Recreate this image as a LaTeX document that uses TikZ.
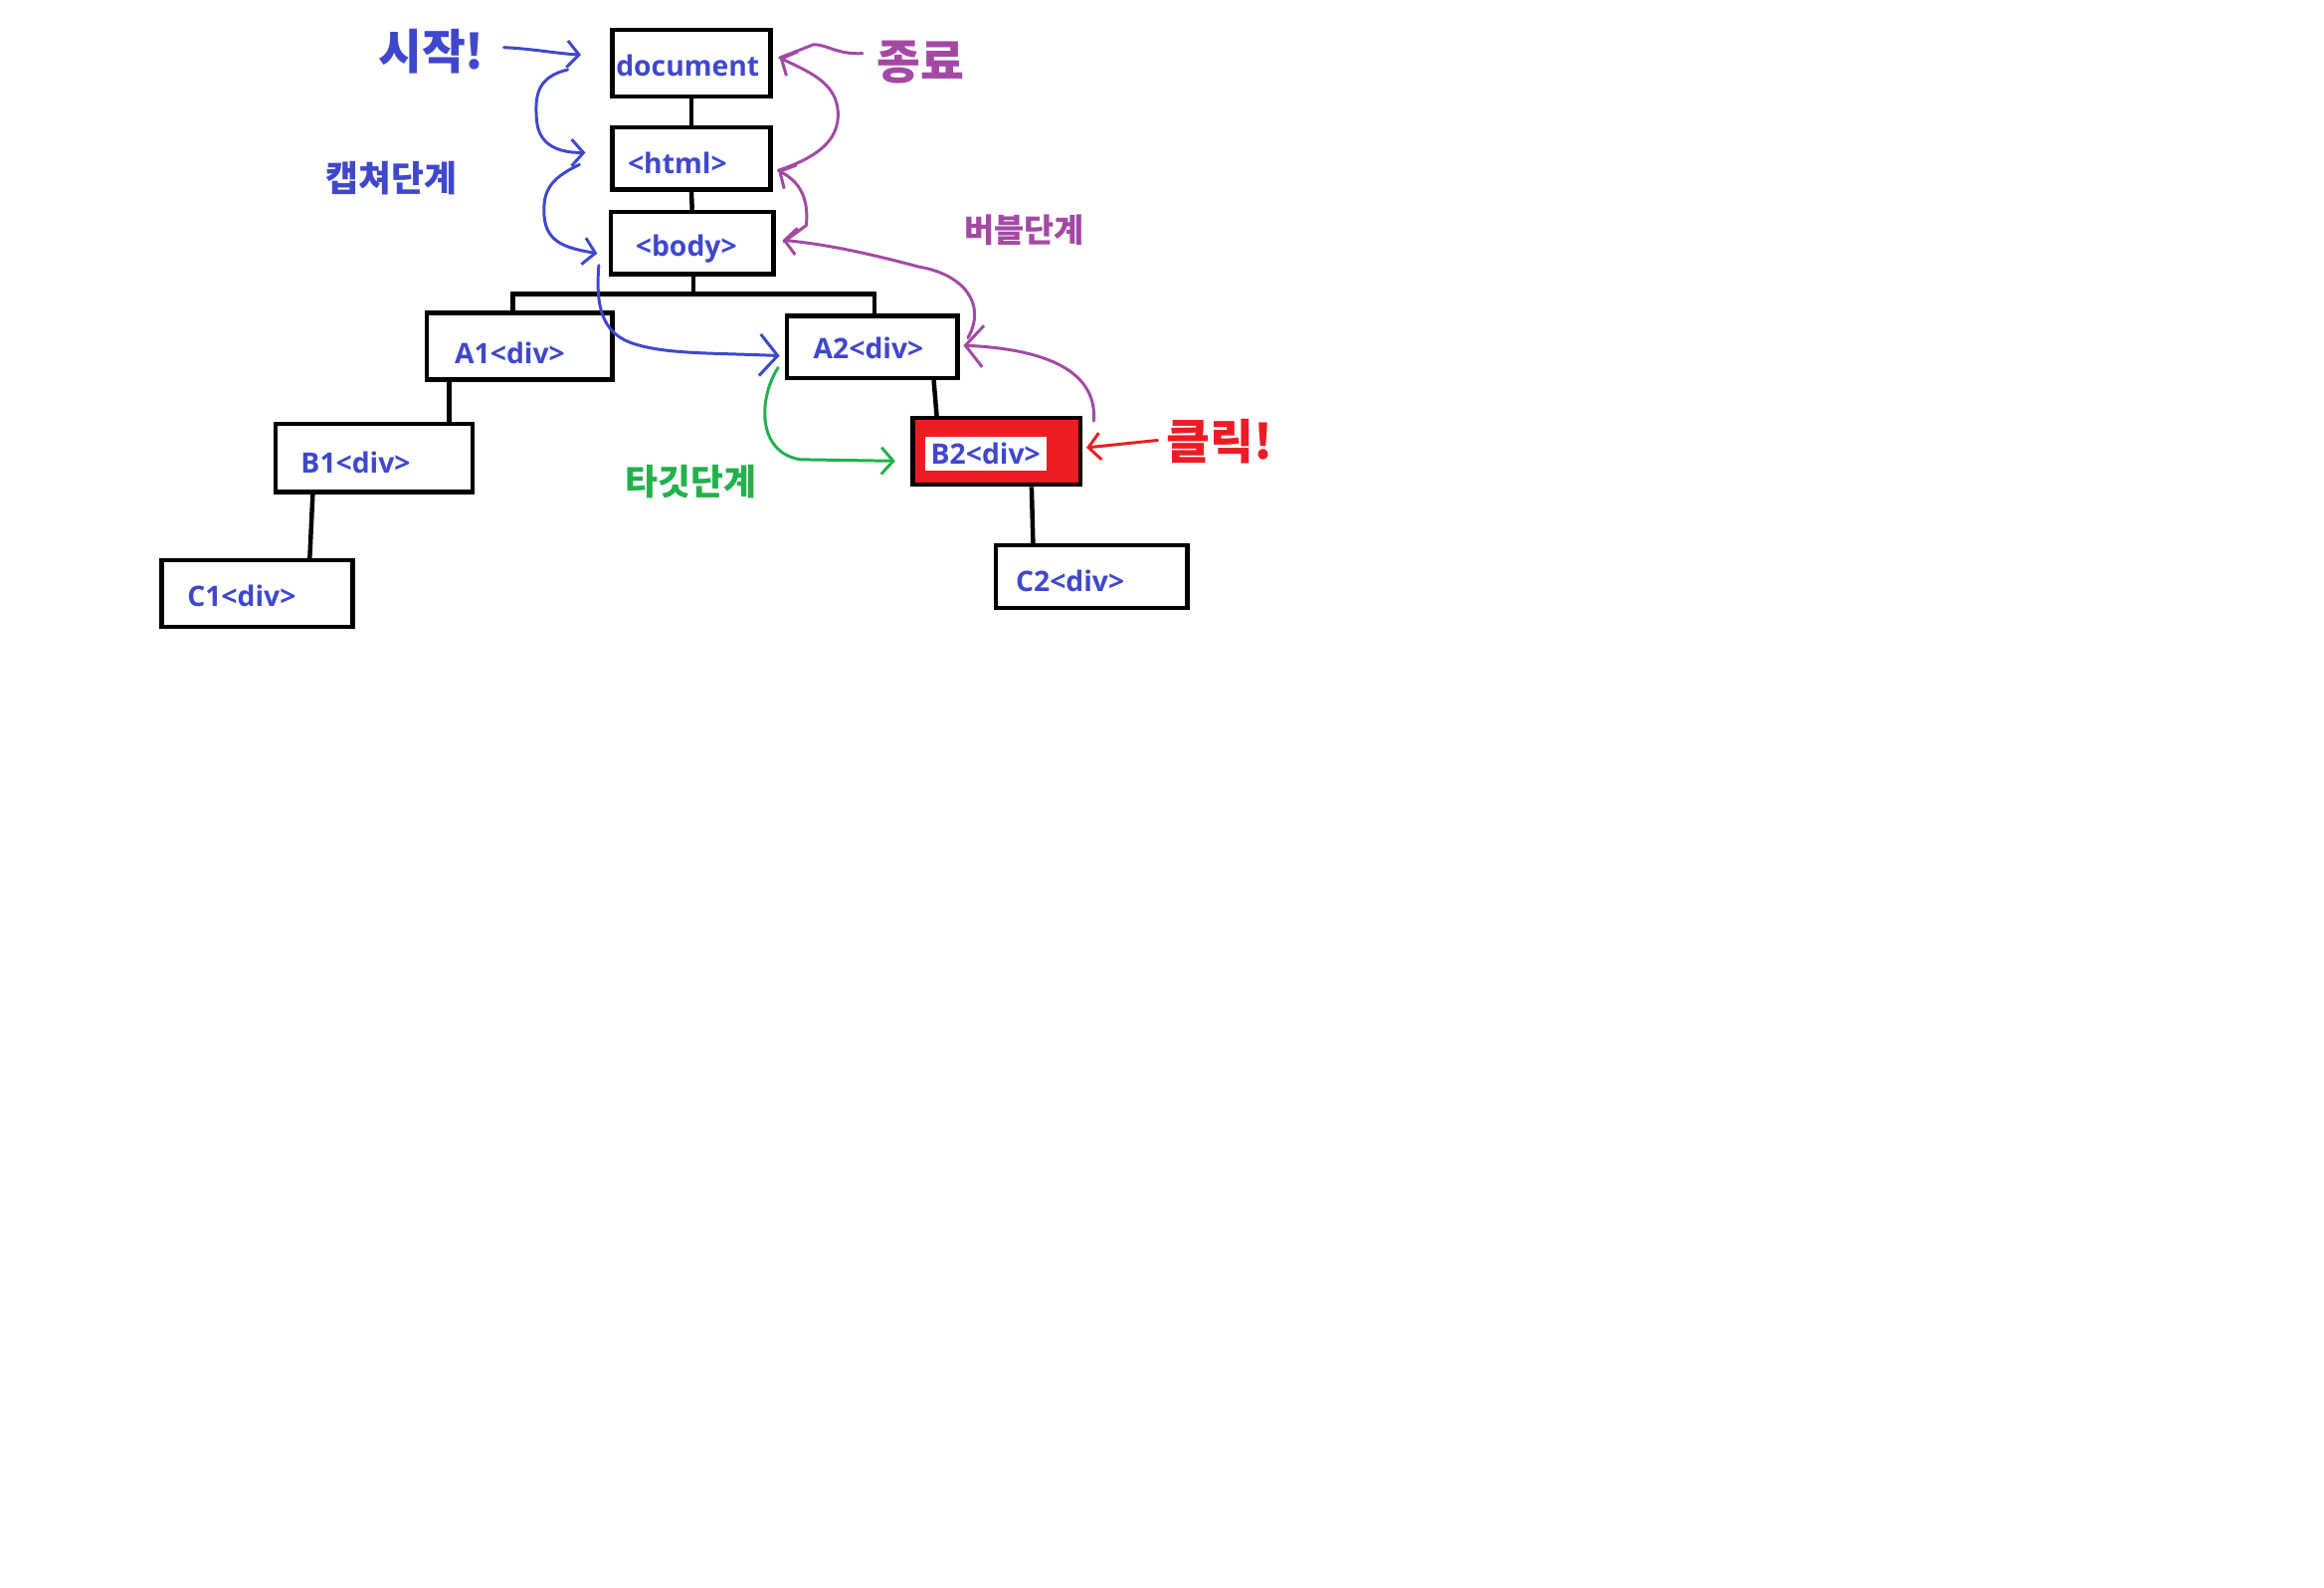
\documentclass[tikz,border=0pt]{standalone}
\usepackage{fontspec}
\newfontfamily\krfont{Noto Sans CJK KR}
\newfontfamily\boxfont{Open Sans}
\usetikzlibrary{arrows.meta}
\definecolor{pblue}{HTML}{3F48CC}
\definecolor{ppurple}{HTML}{A349A4}
\definecolor{pgreen}{HTML}{22B14C}
\definecolor{pred}{HTML}{ED1C24}
\begin{document}
\begin{tikzpicture}[x=1pt,y=-1pt,
  box/.style={draw=black,line width=3pt,rectangle,inner sep=0pt},
  boxtext/.style={text=pblue,font=\boxfont\bfseries\fontsize{19}{22}\selectfont,inner sep=0pt},
  tree/.style={line width=3pt,black},
  hand/.style={line width=2pt,line cap=round,line join=round},
  barb/.style={-{Straight Barb[length=8pt,width=18pt]}},
  bigbarb/.style={-{Straight Barb[length=12pt,width=28pt]}},
  kr/.style={inner sep=0pt,font=\krfont\bfseries\fontsize{#1}{#1}\selectfont}
]
\fill[white] (0,0) rectangle (1568,1071);
\useasboundingbox (0,0) rectangle (1568,1071);

% boxes
\node[box,minimum width=107pt,minimum height=45pt] (doc) at (466.5,42.5) {};
\node[box,minimum width=107pt,minimum height=42pt] (html) at (466.5,107) {};
\node[box,minimum width=110pt,minimum height=42pt] (body) at (467,164) {};
\node[box,minimum width=125pt,minimum height=45pt] (A1) at (350.5,233.5) {};
\node[box,minimum width=115pt,minimum height=42pt] (A2) at (588.5,234) {};
\node[box,minimum width=133pt,minimum height=46pt] (B1) at (252.5,309) {};
\node[box,fill=pred,minimum width=113pt,minimum height=45pt] (B2) at (672.5,304.5) {};
\node[box,minimum width=129pt,minimum height=45pt] (C1) at (173.5,400.5) {};
\node[box,minimum width=129pt,minimum height=42pt] (C2) at (736.5,389) {};

% box texts
\node[boxtext] (doct) at (464,44) {document};
\node[boxtext] (htmlt) at (457,110) {<html>};
\node[boxtext] (bodyt) at (463,168) {<body>};
\node[boxtext] (A1t) at (344,238) {A1<div>};
\node[boxtext] (A2t) at (586,235) {A2<div>};
\node[boxtext] (B1t) at (240,312) {B1<div>};
\node[boxtext,fill=white,inner sep=4pt] (B2t) at (665,306) {B2<div>};
\node[boxtext] (C1t) at (163,402) {C1<div>};
\node[boxtext] (C2t) at (722,392) {C2<div>};

% tree connectors
\draw[tree] (doc.south) -- (html.north);
\draw[tree] (html.south) -- (body.north);
\draw[tree] ([xshift=1pt]body.south) -- ++(0,12) coordinate (bj);
\draw[tree] ([xshift=-4.5pt]A1.north) |- (bj) -| ([xshift=1.5pt]A2.north);
\draw[tree] ([xshift=-47.5pt]A1.south) -- ([xshift=50.5pt]B1.north);
\draw[tree] ([xshift=-41.5pt]B1.south) -- ([xshift=35.5pt]C1.north);
\draw[tree] ([xshift=41.5pt]A2.south) -- ([xshift=-40.5pt]B2.north);
\draw[tree] ([xshift=23.5pt]B2.south) -- ([xshift=-39.5pt]C2.north);

% labels
\node[kr=32,text=pblue] (start) at (291,35) {시작!};
\node[kr=32,text=ppurple] (fin) at (621,42) {종료};
\node[kr=24,text=pblue] (cap) at (264,120) {캡쳐단계};
\node[kr=22,text=ppurple] (bub) at (691,155) {버블단계};
\node[kr=24,text=pgreen] (tgt) at (466,325) {타깃단계};
\node[kr=32,text=pred] (clk) at (823,298) {클릭!};

% capture (blue)
\coordinate (s0) at (340,32);
\coordinate (s1) at (392,37);
\draw[hand,pblue,barb] (s0) .. controls (360,33) and (375,36) .. (s1);
\coordinate (c1a) at (383,47);
\coordinate (c1b) at (395,103);
\draw[hand,pblue,barb] (c1a) .. controls (362,52) and (361,65) .. (362,80) .. controls (363,97) and (375,103) .. (c1b);
\coordinate (c2a) at (391,111);
\coordinate (c2b) at (403,171);
\draw[hand,pblue,barb] (c2a) .. controls (372,120) and (367,128) .. (367,142) .. controls (367,163) and (380,167) .. (c2b);
\coordinate (c3a) at (404,179);
\coordinate (c3b) at (526,240);
\draw[hand,pblue,bigbarb] (c3a) .. controls (402,205) and (405,225) .. (428,232) .. controls (450,239) and (480,238) .. (c3b);

% target (green)
\coordinate (g0) at (525,248);
\coordinate (g1) at (604,311);
\draw[hand,pgreen,barb] (g0) .. controls (512,268) and (510,305) .. (540,310) -- (g1);

% click (red)
\coordinate (r0) at (781,297);
\coordinate (r1) at (733,302);
\draw[hand,pred,barb] (r0) -- (r1);

% bubble (purple)
\coordinate (p0) at (738,284);
\coordinate (p1) at (650,233);
\draw[hand,ppurple,bigbarb] (p0) .. controls (740,255) and (715,236) .. (p1);
\coordinate (p2) at (653,228);
\coordinate (p3) at (528,162);
\draw[hand,ppurple,barb] (p2) .. controls (666,205) and (650,185) .. (620,180) .. controls (590,172) and (560,165) .. (p3);
\coordinate (p4) at (529,163);
\coordinate (p5) at (525,115);
\draw[hand,ppurple,barb] (p4) -- (544,152) .. controls (545,140) and (544,125) .. (p5);
\coordinate (p6) at (526,39);
\draw[hand,ppurple,barb] (p5) .. controls (555,105) and (568,92) .. (565,72) .. controls (562,55) and (545,48) .. (p6);
\coordinate (p7) at (582,36);
\draw[hand,ppurple] (p7) .. controls (565,37) and (558,30) .. (549,30) -- (p6);
\end{tikzpicture}
\end{document}
